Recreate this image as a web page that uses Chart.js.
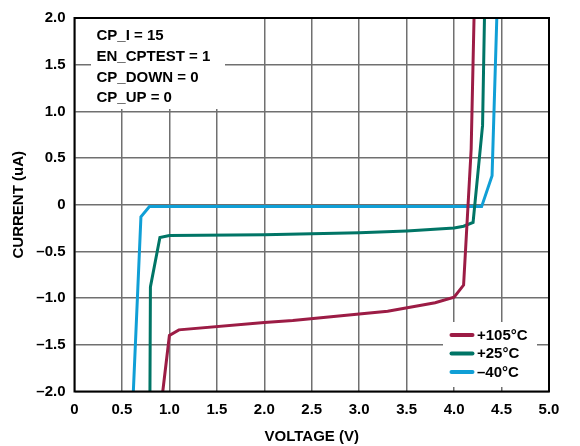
<!DOCTYPE html>
<html>
<head>
<meta charset="utf-8">
<script src="https://cdn.jsdelivr.net/npm/chart.js@4"></script>
<style>
  html, body { margin: 0; padding: 0; background: #fff; }
  #wrap { width: 580px; height: 446px; }
</style>
</head>
<body>
<div id="wrap"><canvas id="myChart" width="580" height="446"></canvas></div>
<script>
// data (voltage in V, current in uA)
var seriesNames = ['+105°C', '+25°C', '–40°C'];
var seriesColors = ['#9c1c45', '#007566', '#109fd6'];

var v105 = [0.93, 1.00, 1.10, 2.00, 2.30, 3.00, 3.30, 3.80, 4.00, 4.10, 4.18, 4.21];
var i105 = [-2.00, -1.40, -1.34, -1.26, -1.24, -1.17, -1.14, -1.05, -0.99, -0.86, 0.60, 2.00];

var v25 = [0.795, 0.80, 0.90, 1.00, 2.00, 3.00, 3.50, 4.00, 4.10, 4.20, 4.30, 4.32];
var i25 = [-2.00, -0.88, -0.35, -0.33, -0.32, -0.30, -0.28, -0.25, -0.23, -0.19, 0.85, 2.00];

var vm40 = [0.62, 0.70, 0.79, 4.29, 4.40, 4.45];
var im40 = [-2.00, -0.13, -0.02, -0.02, 0.31, 2.00];

var settings = ['CP_I = 15', 'EN_CPTEST = 1', 'CP_DOWN = 0', 'CP_UP = 0'];

var xTitle = 'VOLTAGE (V)';
var yTitle = 'CURRENT (uA)';

var FONT = '"Liberation Sans", Arial, sans-serif';

function pts(xs, ys) {
    var out = [];
    for (var k = 0; k < xs.length; k++) out.push({x: xs[k], y: ys[k]});
    return out;
}

function fmt(v) {
    if (Math.abs(v) < 1e-9) return '0';
    if (v < 0) return '\u2013' + Math.abs(v).toFixed(1);
    return v.toFixed(1);
}

var boxes = {
    id: 'boxes',
    beforeDatasetsDraw: function(chart) {
        var ctx = chart.ctx, a = chart.chartArea;
        ctx.save();
        ctx.fillStyle = '#fff';
        // settings box (top left)
        ctx.fillRect(a.left + 16.5, a.top + 1, 134, 90);
        // legend box (bottom right)
        ctx.fillRect(a.left + 368.5, a.top + 304, 94, 65);
        ctx.restore();
    },
    afterDatasetsDraw: function(chart) {
        var ctx = chart.ctx, a = chart.chartArea;
        ctx.save();
        // frame
        ctx.strokeStyle = '#000';
        ctx.lineWidth = 2;
        ctx.strokeRect(a.left, a.top, a.right - a.left, a.bottom - a.top);

        ctx.font = 'bold 15px ' + FONT;
        ctx.fillStyle = '#000';
        ctx.textBaseline = 'middle';
        ctx.textAlign = 'left';
        for (var k = 0; k < settings.length; k++) {
            ctx.fillText(settings[k], a.left + 22, a.top + 18 + k * 20.7);
        }

        var ds = chart.data.datasets;
        for (var j = 0; j < ds.length; j++) {
            var y = a.top + 317 + j * 18.5;
            ctx.strokeStyle = ds[j].borderColor;
            ctx.lineWidth = 4;
            ctx.lineCap = 'round';
            ctx.beginPath();
            ctx.moveTo(a.left + 377, y);
            ctx.lineTo(a.left + 398, y);
            ctx.stroke();
            ctx.fillStyle = '#000';
            ctx.fillText(ds[j].label, a.left + 402.5, y + 0.5);
        }
        ctx.restore();
    }
};

Chart.defaults.font.family = FONT;
Chart.defaults.font.size = 15;
Chart.defaults.font.weight = 'bold';
Chart.defaults.color = '#000';

var ctx = document.getElementById('myChart').getContext('2d');
var myChart = new Chart(ctx, {
    type: 'line',
    data: {
        datasets: [
            {label: seriesNames[0], data: pts(v105, i105), borderColor: seriesColors[0]},
            {label: seriesNames[1], data: pts(v25, i25), borderColor: seriesColors[1]},
            {label: seriesNames[2], data: pts(vm40, im40), borderColor: seriesColors[2]}
        ]
    },
    options: {
        responsive: false,
        animation: false,
        devicePixelRatio: 1,
        elements: {
            line: {borderWidth: 3, tension: 0, fill: false},
            point: {radius: 0, hoverRadius: 0}
        },
        layout: {padding: {left: 0, right: 31, top: 13, bottom: 0}},
        plugins: {
            legend: {display: false},
            tooltip: {enabled: false}
        },
        scales: {
            x: {
                type: 'linear',
                min: 0, max: 5,
                ticks: {stepSize: 0.5, padding: 9, callback: fmt, maxRotation: 0},
                grid: {color: '#707070', lineWidth: 1.5, drawTicks: false},
                border: {display: false},
                title: {display: true, text: xTitle, padding: {top: 0, bottom: 0}},
                afterFit: function(s) { s.height = 54.5; }
            },
            y: {
                type: 'linear',
                min: -2, max: 2,
                ticks: {stepSize: 0.5, padding: 9, callback: fmt},
                grid: {color: '#707070', lineWidth: 1.5, drawTicks: false},
                border: {display: false},
                title: {display: true, text: yTitle, padding: {top: 10, bottom: 0}},
                afterFit: function(s) { s.width = 74.5; }
            }
        }
    },
    plugins: [boxes]
});
</script>
</body>
</html>
